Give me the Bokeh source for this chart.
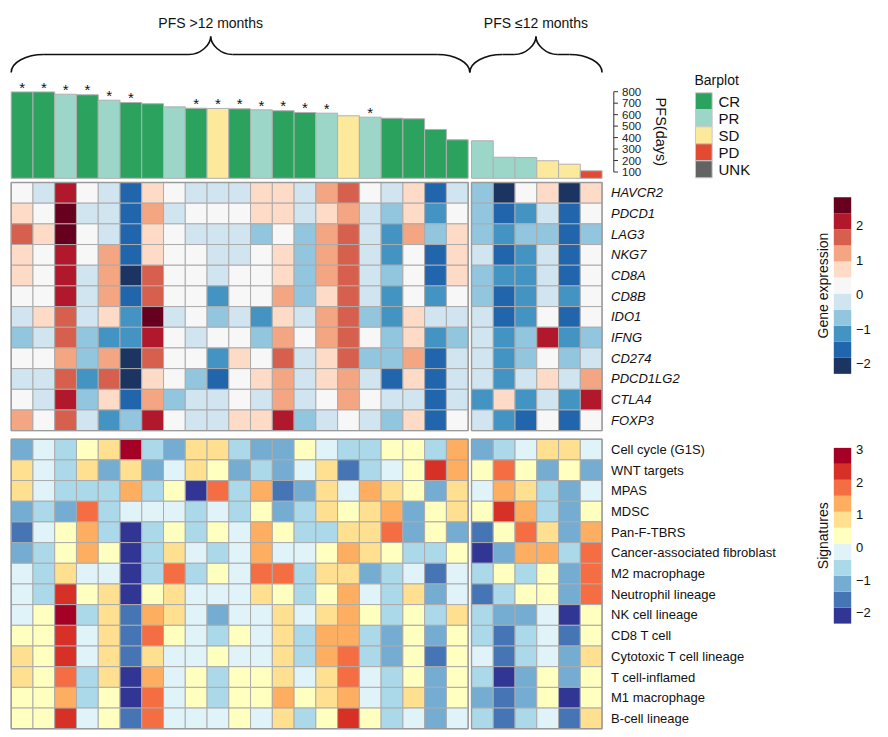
import math
from bokeh.plotting import figure
from bokeh.models import Range1d, LinearColorMapper, ColumnDataSource
from bokeh.embed import file_html
from bokeh.resources import INLINE
from bokeh.core.properties import value

# ---------------------------------------------------------------- data
group_labels = ["PFS >12 months", "PFS \u226412 months"]
group_sizes = [21, 6]

pfs_days = [798, 798, 778, 773, 726, 706, 695, 668, 656, 654, 651, 642, 634, 619,
            613, 590, 578, 569, 564, 471, 381,
            372, 229, 226, 198, 168, 110]
response = ["CR", "CR", "PR", "CR", "PR", "CR", "CR", "PR", "CR", "SD", "CR", "PR", "CR", "CR",
            "PR", "SD", "PR", "CR", "CR", "CR", "CR",
            "PR", "PR", "PR", "SD", "SD", "PD"]
starred = [1, 1, 1, 1, 1, 1, 0, 0, 1, 1, 1, 1, 1, 1,
           1, 0, 1, 0, 0, 0, 0,
           0, 0, 0, 0, 0, 0]
pfs_ticks = [100, 200, 300, 400, 500, 600, 700, 800]

resp_cats = ["CR", "PR", "SD", "PD", "UNK"]
resp_colors = ["#2ca25f", "#9bd6c9", "#fde99c", "#e34a33", "#636363"]

genes = ["HAVCR2", "PDCD1", "LAG3", "NKG7", "CD8A", "CD8B", "IDO1", "IFNG",
         "CD274", "PDCD1LG2", "CTLA4", "FOXP3"]
HAVCR2 = [0.3, -0.2, 2.1, 0.3, -0.2, -1.6, 0.7, 0.3, -0.2, -0.2, -0.2, 0.7, 0.7, -0.2, 1.2, 1.7, 0.3, -0.2, 0.7, -1.6, -0.2, -0.7, -2.1, 0.3, 0.7, -2.1, 0.7]
PDCD1 = [0.7, 0.3, 2.6, -0.2, -0.2, -1.6, 1.2, -0.2, 0.3, 0.3, 0.3, 0.7, 0.7, -0.2, 0.7, 1.2, -0.2, -0.7, 0.7, -1.1, 0.3, -0.7, -1.6, -1.1, -0.2, -1.6, 0.3]
LAG3 = [1.7, 0.7, 2.6, 0.3, -0.2, -1.6, 0.7, 0.3, -0.2, -0.2, -0.2, -0.7, 0.3, -0.7, 1.2, 1.7, -0.2, -1.1, 1.2, -0.7, 0.7, -0.7, -1.1, -0.7, -0.7, -1.6, -0.7]
NKG7 = [0.7, 0.3, 2.1, 0.3, 1.2, -1.6, 0.7, 0.3, 0.3, -0.2, -0.2, 0.3, 0.7, -0.7, 1.2, 1.7, -0.2, -1.1, 0.3, -1.6, 0.7, -0.2, -1.6, -1.1, -0.2, -1.6, 0.3]
CD8A = [0.7, 0.3, 2.1, -0.2, 1.2, -2.1, 1.7, 0.3, 0.3, -0.2, 0.3, 0.3, 0.7, -0.7, 1.2, 1.7, -0.2, -0.7, 0.3, -1.6, 0.7, -0.7, -1.1, -1.1, -0.2, -1.6, 0.3]
CD8B = [0.3, 0.3, 2.1, -0.2, 1.2, -1.6, 1.7, 0.3, 0.3, -1.1, 0.3, 0.3, 1.2, -0.7, 0.7, 1.7, -0.2, -1.1, 0.3, -1.1, 0.3, -0.7, -1.6, -1.1, -0.2, -1.1, 0.3]
IDO1 = [-0.2, 0.7, 1.7, -0.2, 0.7, -1.1, 2.6, -0.2, 0.3, -0.7, -0.2, -1.1, 0.7, -0.2, 1.2, 1.7, -0.7, -1.1, 0.7, -0.2, -0.2, -0.2, -1.6, -1.1, 0.3, -1.6, 0.3]
IFNG = [-0.7, -0.2, 1.7, -0.7, -1.1, -1.1, 2.1, 0.3, -0.2, 0.3, 0.3, -0.7, 1.2, 0.3, 1.2, 1.7, 0.3, -0.7, 0.7, -1.1, -0.7, -0.2, -1.1, -0.7, 2.1, -1.1, -0.7]
CD274 = [0.3, 0.3, 1.2, -0.7, 1.2, -2.1, 1.7, 0.3, 0.3, -1.1, 0.7, 0.3, 1.7, -0.2, 0.7, 1.7, -0.7, -0.7, 1.2, -1.6, -0.2, -0.2, -1.1, -0.7, 0.3, -0.7, -0.2]
PDCD1LG2 = [-0.2, -0.2, 1.7, -1.1, 1.7, -2.1, 0.7, 0.3, -0.7, -1.6, 0.3, 0.7, 1.2, -0.2, 0.7, 1.2, -0.2, -1.6, 0.7, -1.6, -0.2, -0.2, -1.1, -0.2, 0.7, -0.2, 1.2]
CTLA4 = [0.3, -0.2, 2.1, -0.7, 0.7, -1.6, 1.2, -0.7, -0.2, -0.2, 0.3, -0.2, 1.2, -0.2, 0.3, 1.2, 0.3, -0.2, -0.2, -1.6, -0.2, -1.1, 0.7, -1.1, -0.2, -1.1, 2.1]
FOXP3 = [1.2, 0.3, 1.7, -0.2, -1.1, -0.7, 2.1, 0.3, -0.2, -0.2, 0.7, 0.7, 2.1, -0.7, -0.2, 0.3, -0.2, -0.7, 0.7, -1.6, 0.3, -0.2, -1.1, -1.6, 0.3, -1.6, 0.3]
gene_rows = [HAVCR2, PDCD1, LAG3, NKG7, CD8A, CD8B, IDO1, IFNG, CD274, PDCD1LG2, CTLA4, FOXP3]

signatures = ["Cell cycle (G1S)", "WNT targets", "MPAS", "MDSC", "Pan-F-TBRS",
              "Cancer-associated fibroblast", "M2 macrophage", "Neutrophil lineage",
              "NK cell lineage", "CD8 T cell", "Cytotoxic T cell lineage",
              "T cell-inflamed", "M1 macrophage", "B-cell lineage"]
sig_cell_cycle = [-1.1, -0.1, -0.6, 0.4, 0.8, 2.8, -0.6, -1.1, 0.8, 0.8, -0.6, -1.1, -1.1, 0.4, -0.1, -0.6, -0.6, 0.4, 0.4, -0.6, 1.3, -1.1, -0.6, -0.1, 0.8, 0.8, -0.1]
sig_wnt = [0.8, -0.1, -0.6, 0.8, -1.1, 0.8, -1.1, -0.1, 0.8, 0.4, -1.1, -0.6, -1.1, -0.1, 0.8, -1.6, -0.6, -0.1, 0.4, 2.3, 1.3, 0.4, 1.8, 0.4, -1.1, 0.4, -1.1]
sig_mpas = [0.8, -0.1, -0.6, -0.6, -0.6, 1.3, -0.6, 0.4, -2.1, 1.8, -0.6, 1.3, -1.6, -1.1, 0.8, -0.1, 1.3, 0.8, 0.4, -1.1, 0.8, -0.1, 1.3, 0.8, -0.6, -1.1, -0.1]
sig_mdsc = [-1.1, -0.6, -1.1, 1.8, -0.6, -0.1, -0.1, -0.1, -0.6, -0.1, -0.6, 0.4, -1.1, -0.6, 0.8, 0.4, 0.8, 1.3, -1.1, 0.4, 0.8, 0.4, 2.3, 1.3, -0.6, -1.1, 0.4]
sig_panf_tbrs = [-1.6, -0.1, 0.4, 1.3, -0.6, -2.1, -0.6, 0.4, -0.6, 0.4, -0.1, 1.3, 0.4, -0.6, -0.6, 0.8, 0.8, 1.8, -1.1, 0.4, -1.1, -1.6, 0.4, 1.8, 0.8, -1.1, 1.3]
sig_caf = [-1.1, -0.6, 0.4, 1.3, 0.4, -2.1, -0.6, 0.8, -0.1, -0.6, -0.1, 1.3, -0.1, -0.1, 0.4, 1.3, 0.8, 0.4, -0.6, -0.6, 0.4, -2.1, -1.1, 1.3, 1.3, -0.6, 1.8]
sig_m2 = [-0.1, -0.6, 0.8, -0.1, -0.1, -2.1, -0.6, 1.8, -0.6, 0.4, -0.1, 1.8, 1.8, -0.6, 0.8, 0.8, -1.1, -0.6, -0.1, -1.6, -0.1, -0.6, 0.4, -0.6, 0.4, -1.1, 1.8]
sig_neutrophil = [-0.1, -0.6, 2.3, 0.4, 0.8, -2.1, 0.4, 0.8, -0.1, -0.1, -0.1, 0.8, 0.4, -0.6, 0.4, 1.3, -0.1, -0.6, 0.8, -1.1, -0.1, -1.6, -0.6, 0.4, 0.4, -1.1, 1.8]
sig_nk = [-0.1, 0.4, 2.8, -0.6, 0.8, -1.6, 1.3, 0.8, -0.1, -1.1, -0.1, -0.1, 0.8, -0.1, 0.8, 1.3, 0.4, -0.6, 0.4, -0.6, 0.8, -0.6, -1.1, -1.1, -0.1, -2.1, 0.4]
sig_cd8_t = [0.4, 0.4, 2.3, -0.1, 0.8, -1.6, 1.8, 0.4, -0.1, -0.6, 0.4, -0.1, 0.8, -0.6, 1.3, 1.3, -0.6, -1.1, 0.4, -1.1, 0.4, -0.6, -1.6, -0.6, -0.1, -1.6, 0.4]
sig_cytotoxic = [0.8, 0.4, 2.3, -0.1, 0.8, -1.6, 0.8, -0.1, -0.1, 0.4, -0.1, -0.1, 0.8, -0.6, 1.3, 1.8, -0.6, -1.1, 0.4, -1.6, 0.4, -0.1, -1.6, -0.6, -0.1, -1.1, 0.8]
sig_t_inflamed = [0.8, 0.4, 1.8, -0.6, 0.8, -2.1, 1.3, -0.1, 0.4, -0.6, 0.4, 0.4, 0.8, -0.1, 0.8, 1.8, -0.1, -0.6, 0.4, -1.1, 0.4, -0.6, -2.1, -1.1, 0.4, -1.1, 0.4]
sig_m1 = [0.4, 0.4, 1.3, -0.6, 0.4, -2.1, 1.8, -0.1, 0.4, -0.6, 0.4, 0.4, 1.3, 0.4, 0.8, 1.3, -0.1, -0.6, 0.8, -1.1, 0.4, -1.1, -1.6, -1.1, 0.4, -2.1, 0.4]
sig_bcell = [0.4, 0.4, 2.3, -0.1, 0.4, -1.6, 1.8, -0.1, -0.1, -0.1, 0.4, -0.1, 0.8, -0.6, 0.4, 2.3, 0.4, -0.6, -0.1, -1.1, -0.1, -0.6, -1.6, -0.6, -0.1, -1.6, 0.8]
sig_rows = [sig_cell_cycle, sig_wnt, sig_mpas, sig_mdsc, sig_panf_tbrs, sig_caf, sig_m2,
            sig_neutrophil, sig_nk, sig_cd8_t, sig_cytotoxic, sig_t_inflamed, sig_m1, sig_bcell]

gene_palette = ["#1c3461", "#2166ac", "#4393c3", "#92c5de", "#d1e5f0", "#f7f7f7",
                "#fddbc7", "#f4a582", "#d6604d", "#b2182b", "#67001f"]
gene_low, gene_high = -2.3, 2.82
gene_ticks = [-2, -1, 0, 1, 2]
gene_tick_labels = ["\u22122", "\u22121", "0", "1", "2"]

sig_palette = ["#313695", "#4575b4", "#74add1", "#abd9e9", "#e0f3f8", "#ffffbf",
               "#fee090", "#fdae61", "#f46d43", "#d73027", "#a50026"]
sig_low, sig_high = -2.33, 3.05
sig_ticks = [-2, -1, 0, 1, 2, 3]
sig_tick_labels = ["\u22122", "\u22121", "0", "1", "2", "3"]

# ---------------------------------------------------------------- layout helpers
W, H = 886, 735
PAGE_L, PAGE_T = 0, 0
PAGE_R, PAGE_B = PAGE_L + W, PAGE_T + H
CW = 21.76      # px per column
RH = 20.68      # px per heatmap row
X0 = 10.7       # page x of the first column edge
Y0 = 182.0      # page y of the first gene row
GAP = 0.154     # split gap, in columns


def cx(px):
    return (px - X0) / CW


def ry(py):
    return (py - Y0) / RH


def lin_range(v1, py1, v2, py2):
    s = (v2 - v1) / (py2 - py1)
    return Range1d(start=v1 + (PAGE_B - py1) * s, end=v1 + (PAGE_T - py1) * s)


FONT = value("Liberation Sans")

p = figure(width=W, height=H, output_backend="svg", toolbar_location=None,
           x_range=Range1d(cx(PAGE_L), cx(PAGE_R)), y_range=lin_range(0, Y0, 1, Y0 + RH),
           x_axis_location=None, y_axis_location=None, min_border=0,
           outline_line_color=None, background_fill_color="white", border_fill_color="white")
p.min_border_left = p.min_border_right = p.min_border_top = p.min_border_bottom = 0
p.grid.visible = False
p.extra_y_ranges = {
    "pfs": lin_range(100, 171.5, 800, 91.2),
    "gleg": lin_range(0, 294.0, 2, 225.0),
    "sleg": lin_range(0, 547.0, 3, 449.0),
}

n = len(pfs_days)
col_group = []
for g, size in enumerate(group_sizes):
    col_group += [g] * size
col_x = [i + 0.5 + GAP * col_group[i] for i in range(n)]
group_left = [min(col_x[i] for i in range(n) if col_group[i] == g) - 0.5 for g in range(len(group_sizes))]
group_right = [max(col_x[i] for i in range(n) if col_group[i] == g) + 0.5 for g in range(len(group_sizes))]

# ---------------------------------------------------------------- bars
PFS_BASE = 45
color_of = dict(zip(resp_cats, resp_colors))
bar_src = ColumnDataSource(dict(x=col_x, top=pfs_days, color=[color_of[r] for r in response]))
p.vbar(x="x", top="top", bottom=PFS_BASE, width=1.0, fill_color="color", line_color="#b0b0b0",
       line_width=1, y_range_name="pfs", source=bar_src)

STAR_OFF = 42
sx = [col_x[i] for i in range(n) if starred[i]]
sy = [pfs_days[i] + STAR_OFF for i in range(n) if starred[i]]
p.text(x=sx, y=sy, text=["*"] * len(sx), text_align="center", text_baseline="alphabetic",
       text_font=FONT, text_font_size="15px", text_color="#111111", y_range_name="pfs")

# PFS axis
ax_x = cx(613.3)
p.segment(x0=[ax_x], y0=[pfs_ticks[0]], x1=[ax_x], y1=[pfs_ticks[-1]], line_color="#333333",
          line_width=1, y_range_name="pfs")
p.segment(x0=[ax_x] * len(pfs_ticks), y0=pfs_ticks, x1=[cx(617.5)] * len(pfs_ticks), y1=pfs_ticks,
          line_color="#333333", line_width=1, y_range_name="pfs")
p.text(x=[cx(621.5)] * len(pfs_ticks), y=pfs_ticks, text=[str(t) for t in pfs_ticks],
       text_baseline="middle", text_align="left", text_font=FONT, text_font_size="11.5px",
       text_color="#222222", y_range_name="pfs")
p.text(x=[cx(660)], y=[(pfs_ticks[0] + pfs_ticks[-1]) / 2], text=["PFS(days)"], angle=-math.pi / 2,
       text_align="center", text_baseline="middle", text_font=FONT, text_font_size="14.5px",
       text_color="#111111", y_range_name="pfs")

# braces + group titles
Y_TIP, Y_MID, Y_PEAK, Y_TXT = ry(72), ry(54), ry(36), ry(22)
peak_frac = [0.435, 0.5]
K = 0.552
for g in range(len(group_sizes)):
    x0, x1 = group_left[g], group_right[g]
    if g == 0:
        x1 += GAP / 2
    else:
        x0 -= GAP / 2
    xp = x0 + (x1 - x0) * peak_frac[g]
    a, b = 1.5, 1.0
    bz = dict(x0=[], y0=[], x1=[], y1=[], cx0=[], cy0=[], cx1=[], cy1=[])

    def add(P0, C0, C1, P1):
        bz["x0"].append(P0[0]); bz["y0"].append(P0[1])
        bz["cx0"].append(C0[0]); bz["cy0"].append(C0[1])
        bz["cx1"].append(C1[0]); bz["cy1"].append(C1[1])
        bz["x1"].append(P1[0]); bz["y1"].append(P1[1])

    add((x0, Y_TIP), (x0, Y_TIP + K * (Y_MID - Y_TIP)), (x0 + a * (1 - K), Y_MID), (x0 + a, Y_MID))
    add((xp - b, Y_MID), (xp - b * (1 - K), Y_MID), (xp, Y_MID + K * (Y_PEAK - Y_MID)), (xp, Y_PEAK))
    add((xp, Y_PEAK), (xp, Y_MID + K * (Y_PEAK - Y_MID)), (xp + b * (1 - K), Y_MID), (xp + b, Y_MID))
    add((x1 - a, Y_MID), (x1 - a * (1 - K), Y_MID), (x1, Y_TIP + K * (Y_MID - Y_TIP)), (x1, Y_TIP))
    p.bezier(source=ColumnDataSource(bz), x0="x0", y0="y0", x1="x1", y1="y1", cx0="cx0", cy0="cy0",
             cx1="cx1", cy1="cy1", line_color="#111111", line_width=1.6)
    p.segment(x0=[x0 + a, xp + b], y0=[Y_MID, Y_MID], x1=[xp - b, x1 - a], y1=[Y_MID, Y_MID],
              line_color="#111111", line_width=1.6)
    p.text(x=[xp], y=[Y_TXT], text=[group_labels[g]], text_align="center", text_baseline="middle",
           text_font=FONT, text_font_size="14px", text_color="#111111")

# Barplot legend
LEG_X = cx(703.3)
LEG_TOP = ry(92.3)
LEG_H = 17.0 / RH
p.text(x=[cx(694)], y=[ry(79)], text=["Barplot"], text_align="left", text_baseline="middle",
       text_font=FONT, text_font_size="14px", text_color="#111111")
leg_y = [LEG_TOP + (i + 0.5) * LEG_H for i in range(len(resp_cats))]
p.rect(x=[LEG_X] * len(resp_cats), y=leg_y, width=16.7 / CW, height=LEG_H, fill_color=resp_colors,
       line_color="#c8c8c8", line_width=1)
p.text(x=[cx(718)] * len(resp_cats), y=leg_y, text=resp_cats, text_align="left", text_baseline="middle",
       text_font=FONT, text_font_size="15px", text_color="#111111")

# ---------------------------------------------------------------- heatmaps
def heatmap(rows, names, top, mapper, italic):
    xs, ys, vs = [], [], []
    for r, vals in enumerate(rows):
        for c, v in enumerate(vals):
            xs.append(col_x[c]); ys.append(top + r + 0.5); vs.append(v)
    src = ColumnDataSource(dict(x=xs, y=ys, v=vs))
    p.rect(x="x", y="y", width=1, height=1, source=src,
           fill_color={"field": "v", "transform": mapper}, line_color="#ababab", line_width=1)
    nrow = len(rows)
    for g in range(len(group_sizes)):
        p.rect(x=[(group_left[g] + group_right[g]) / 2], y=[top + nrow / 2],
               width=group_right[g] - group_left[g], height=nrow, fill_color=None,
               line_color="#9a9a9a", line_width=1.4)
    p.text(x=[cx(610.5)] * nrow, y=[top + r + 0.5 for r in range(nrow)], text=names,
           text_align="left", text_baseline="middle", text_font=FONT, text_font_size="13px",
           text_font_style="italic" if italic else "normal", text_color="#111111")


gene_mapper = LinearColorMapper(palette=gene_palette, low=gene_low, high=gene_high)
sig_mapper = LinearColorMapper(palette=sig_palette, low=sig_low, high=sig_high)
heatmap(gene_rows, genes, 0.0, gene_mapper, True)
heatmap(sig_rows, signatures, ry(438.7), sig_mapper, False)

# ---------------------------------------------------------------- colour legends
def colour_legend(mapper, low, high, ticks, labels, title, rng):
    nb = len(mapper.palette)
    step = (high - low) / nb
    centers = [low + (i + 0.5) * step for i in range(nb)]
    src = ColumnDataSource(dict(y=centers))
    p.rect(x=cx(842), y="y", width=17.4 / CW, height=step, source=src,
           fill_color={"field": "y", "transform": mapper}, line_color=None, y_range_name=rng)
    p.text(x=[cx(855.5)] * len(ticks), y=ticks, text=labels, text_align="left", text_baseline="middle",
           text_font=FONT, text_font_size="13px", text_color="#111111", y_range_name=rng)
    p.text(x=[cx(822.5)], y=[(low + high) / 2], text=[title], angle=math.pi / 2, text_align="center",
           text_baseline="middle", text_font=FONT, text_font_size="14px", text_color="#111111",
           y_range_name=rng)


colour_legend(gene_mapper, gene_low, gene_high, gene_ticks, gene_tick_labels, "Gene expression", "gleg")
colour_legend(sig_mapper, sig_low, sig_high, sig_ticks, sig_tick_labels, "Signatures", "sleg")

open("out.html", "w").write(file_html(p, INLINE))
